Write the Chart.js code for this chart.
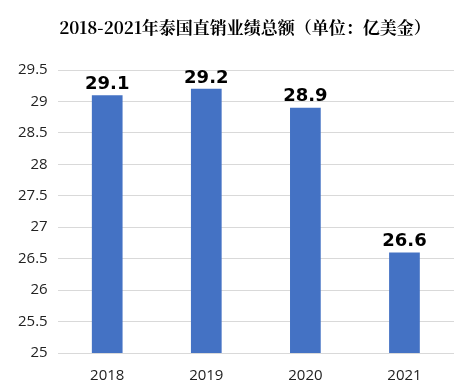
<!DOCTYPE html>
<html>
<head>
<meta charset="utf-8">
<script src="https://cdn.jsdelivr.net/npm/chart.js@4/dist/chart.umd.min.js"></script>
<style>
  html, body { margin: 0; padding: 0; background: #fff; }
  #wrap { width: 471px; height: 391px; }
</style>
</head>
<body>
<div id="wrap"><canvas id="chart"></canvas></div>
<script>
const years = ['2018', '2019', '2020', '2021'];
const sales = [29.1, 29.2, 28.9, 26.6];
const titleText = '2018-2021年泰国直销业绩总额（单位：亿美金）';

// labels above bars + title (slightly right of centre like the original)
const barLabels = {
  id: 'barLabels',
  afterDatasetsDraw(chart) {
    const ctx = chart.ctx;
    const meta = chart.getDatasetMeta(0);
    ctx.save();
    ctx.font = 'bold 18px "DejaVu Sans", "Noto Sans", sans-serif';
    ctx.fillStyle = '#000';
    ctx.textAlign = 'center';
    ctx.textBaseline = 'bottom';
    meta.data.forEach((bar, i) => {
      ctx.fillText(sales[i].toFixed(1), bar.x, bar.y - 2);
    });

    ctx.font = 'bold 17px "Noto Serif CJK SC", "Noto Sans CJK SC", serif';
    ctx.textBaseline = 'middle';
    ctx.fillText(titleText, 245, 28);
    ctx.restore();
  }
};

new Chart(document.getElementById('chart'), {
  type: 'bar',
  data: {
    labels: years,
    datasets: [{
      data: sales,
      backgroundColor: '#4472C4',
      barPercentage: 0.62,
      categoryPercentage: 0.5,
    }],
  },
  options: {
    responsive: true,
    maintainAspectRatio: false,
    animation: false,
    layout: { padding: { left: 8, right: 17, top: 70, bottom: 0 } },
    plugins: {
      legend: { display: false },
      tooltip: { enabled: false },
      title: { display: false },
    },
    scales: {
      x: {
        grid: { display: false },
        border: { display: false },
        ticks: { color: '#222', font: { family: '"Open Sans", "Noto Sans", sans-serif', size: 15 }, padding: 6 },
      },
      y: {
        min: 25,
        max: 29.5,
        ticks: {
          stepSize: 0.5,
          color: '#222',
          padding: 10,
          font: { family: '"Open Sans", "Noto Sans", sans-serif', size: 15 },
          callback: (v) => String(v),
        },
        grid: { color: '#d9d9d9', drawTicks: false },
        border: { display: false },
      },
    },
  },
  plugins: [barLabels],
});
</script>
</body>
</html>
